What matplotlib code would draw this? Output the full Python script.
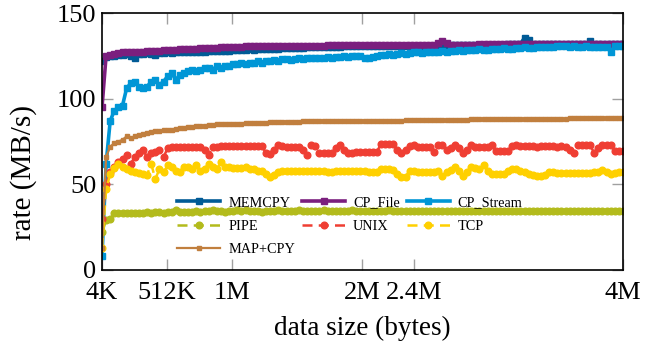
import numpy as np
import matplotlib
matplotlib.use("Agg")
import matplotlib.pyplot as plt

plt.rcParams["font.family"] = ["Liberation Serif", "DejaVu Serif"]

# ── data (MB/s) ──────────────────────────────────────────────────────────
SIZES_KB = np.linspace(4, 4096, 128)

MEMCPY = [
    122, 124.5, 125, 125, 125.5, 125.5, 126, 125, 124, 126,
    126, 126.5, 126, 125.5, 126.5, 126.5, 127, 126.5, 127, 127,
    127, 127, 127.5, 127.5, 127.5, 127.5, 128, 128, 128, 128,
    128, 128, 128.5, 128.5, 128.5, 128.5, 129, 128.5, 129, 129,
    129, 129, 129, 129, 129.5, 129.5, 129.5, 129.5, 129.5, 129.5,
    130, 130, 130, 130, 130, 130, 130, 130, 130, 130.5,
    130.5, 130.5, 130.5, 130.5, 130.5, 130.5, 130.5, 130.5, 131, 131,
    131, 131, 131, 131, 131, 131, 131, 131, 131, 131,
    131, 131, 131, 131, 131.5, 131.5, 131.5, 131.5, 131.5, 131.5,
    131.5, 131.5, 131.5, 131.5, 131.5, 131.5, 131.5, 131.5, 131.5, 132,
    132, 132, 132, 135.5, 134, 132, 132, 132, 132, 132,
    132, 132, 132, 132, 132, 132, 132, 132, 132, 133.5,
    132, 132, 132, 132, 132, 132, 132, 132,
]
CP_FILE = [
    95, 125, 125.5, 126, 126.5, 127, 127, 127.5, 127.5, 127.5,
    127.5, 128, 128, 128, 128, 128.5, 128.5, 128.5, 128.5, 129,
    129, 129, 129, 129, 129.5, 129.5, 129.5, 129.5, 129.5, 130,
    130, 130, 130, 130, 130, 130.5, 130.5, 130.5, 130.5, 130.5,
    130.5, 130.5, 131, 131, 131, 131, 131, 131, 131, 131,
    131, 131, 131, 131, 131, 131.5, 131.5, 131.5, 131.5, 131.5,
    131.5, 131.5, 131.5, 131.5, 131.5, 131.5, 131.5, 131.5, 131.5, 131.5,
    131.5, 131.5, 131.5, 131.5, 131.5, 131.5, 131.5, 131.5, 131.5, 131.5,
    131.5, 131.5, 132.5, 133.5, 132.5, 131.5, 131.5, 131.5, 131.5, 131.5,
    131.5, 131.5, 132, 132, 132, 132, 132, 132, 132, 132,
    132, 132, 132, 132, 132, 132, 132, 132, 132, 132,
    132, 132, 132, 132, 132, 132, 132, 132, 132, 132,
    132, 132, 132, 132, 132, 132, 132, 132,
]
CP_STREAM = [
    8, 62, 87, 93, 95, 96, 106, 109, 110, 107,
    106, 107, 110, 111, 108, 110, 113, 115, 111, 114,
    115, 116, 117, 116, 117, 118, 118, 117, 119, 118,
    119, 119, 120, 120, 121, 120, 121, 121, 122, 121,
    122, 122, 122.5, 122, 123, 123, 122.5, 123, 123.5, 123,
    123.5, 124, 123.5, 124, 124, 124.5, 124, 124.5, 124.5, 125,
    124.5, 125, 125, 125, 124, 123.5, 124.5, 125, 125.5, 125.5,
    126, 125.5, 126, 126.5, 126, 126.5, 127, 127, 126.5, 127,
    127, 127.5, 127.5, 128, 127.5, 128, 128, 128.5, 128, 128.5,
    128.5, 128.5, 129, 128.5, 128.5, 129, 129, 129, 129.5, 129,
    129, 129.5, 129.5, 130, 129.5, 129.5, 130, 130, 130, 130,
    130, 130.5, 130.5, 130.5, 130, 130.5, 130, 130, 130.5, 130,
    130, 130, 130, 130, 127.5, 130.5, 131, 130.5,
]
PIPE = [
    22, 29, 30, 33, 33, 33, 33, 33.5, 33, 33.5,
    33.5, 34, 33.5, 34, 34, 33.5, 34, 34, 35, 34,
    34, 34, 34, 34.5, 34, 34.5, 34.5, 35, 34.5, 34.5,
    34, 34.5, 34.5, 35, 34.5, 35, 34.5, 34.5, 34.5, 34,
    34.5, 34.5, 34.5, 35, 34.5, 34.5, 34.5, 34.5, 35, 34.5,
    34.5, 34.5, 34.5, 34.5, 35, 34.5, 34.5, 34.5, 34.5, 34.5,
    34.5, 35, 34.5, 34.5, 34.5, 34.5, 34.5, 34.5, 34.5, 34.5,
    35, 34.5, 34.5, 34.5, 34.5, 34.5, 34.5, 34.5, 34.5, 34.5,
    34.5, 34.5, 34.5, 34.5, 34.5, 34.5, 34.5, 34.5, 34.5, 34.5,
    34.5, 34.5, 34.5, 34.5, 34.5, 34.5, 34.5, 34.5, 34.5, 34.5,
    34.5, 34.5, 34.5, 34.5, 34.5, 34.5, 34.5, 34.5, 34.5, 34.5,
    34.5, 34.5, 34.5, 34.5, 34.5, 34.5, 34.5, 34.5, 34.5, 34.5,
    34.5, 34.5, 34.5, 34.5, 34.5, 34.5, 34.5, 34.5,
]
UNIX = [
    30, 50, 57, 60, 63, 65, 67, 62, 66, 68,
    70, 66, 68, 69, 70, 66, 71, 72, 72, 72,
    72, 72, 72, 72, 72, 70, 67, 72, 72, 72.5,
    72.5, 72.5, 72.5, 72.5, 72.5, 72.5, 72.5, 72.5, 72.5, 72.5,
    68, 67.5, 70, 73, 72.5, 72, 72, 72, 72, 70,
    67, 73, 72.5, 68, 68, 68, 68, 71, 73, 70,
    68, 68, 69, 69, 69, 69, 69, 69, 73.5, 73.5,
    73.5, 73.5, 70, 68, 70, 72.5, 73, 72, 72, 72,
    72, 69, 73, 73, 70, 71, 73, 71, 68, 70,
    73, 72, 72, 72, 72, 73, 69.5, 69.5, 69.5, 69.5,
    72.5, 73, 72.5, 72.5, 72.5, 72.5, 72, 72.5, 72.5, 72.5,
    72.5, 72, 72.5, 72, 70, 68, 73, 73, 73, 73,
    68, 71, 73, 73, 73, 69.5, 69.5, 69.5,
]
TCP = [
    13, 47, 56, 59.5, 62, 60, 59, 58, 57, 56.5,
    56, 55.5, 62, 53, 59, 57, 61, 60, 58, 57,
    60, 60, 59, 61, 58, 59, 62, 60, 59, 63,
    60, 60, 59.5, 59.5, 59.5, 60, 59, 59, 58, 58,
    56, 54.5, 55.5, 57, 57.5, 58, 58, 58, 58, 57.5,
    57.5, 58, 58, 57.5, 57.5, 57, 57, 58, 57.5, 58,
    58, 57.5, 58, 57.5, 57.5, 57, 57, 57, 59, 59,
    59, 58.5, 56, 54, 54.5, 58, 57.5, 57, 57, 57,
    57, 57, 58, 55, 57, 58.5, 60, 58, 55, 57,
    60, 59.5, 59, 61, 58, 56, 56, 56, 56, 57.5,
    59, 59, 58, 57, 56, 55.5, 55, 55, 55.5, 57,
    57, 56.5, 56.5, 56.5, 56.5, 56.5, 56.5, 56.5, 56.5, 56.5,
    57, 57, 58.5, 57, 56, 56.5, 57, 57,
]
MAP_CPY = [
    13, 66, 72, 74, 75, 76, 78, 77, 78, 79,
    79.5, 80, 80.5, 81, 81, 81.5, 82, 82, 82.5, 83,
    83, 83.5, 83.5, 84, 84, 84, 84.5, 84.5, 85, 85,
    85, 85.5, 85.5, 85.5, 85.5, 86, 86, 86, 86, 86,
    86, 86.5, 86.5, 86.5, 86.5, 86.5, 86.5, 86.5, 86.5, 87,
    87, 87, 87, 87, 87, 87, 87, 87, 87, 87,
    87, 87, 87, 87, 87, 87, 87, 87, 87, 87,
    87, 87, 87, 87, 87.5, 87.5, 87.5, 87.5, 87.5, 87.5,
    87.5, 87.5, 87.5, 87.5, 87.5, 87.5, 87.5, 87.5, 87.5, 87.5,
    88, 88, 88, 88, 88, 88, 88, 88, 88, 88,
    88, 88, 88, 88, 88, 88, 88, 88, 88, 88,
    88, 88, 88, 88, 88.5, 88.5, 88.5, 88.5, 88.5, 88.5,
    88.5, 88.5, 88.5, 88.5, 89, 89, 89, 89,
]

XTICKS_KB = [4, 512, 1024, 2048, 2457.6, 4096]
XTICK_LABELS = ["4K", "512K", "1M", "2M", "2.4M", "4M"]
YTICKS = [0, 50, 100, 150]

# ── plot ─────────────────────────────────────────────────────────────────
fig = plt.figure(figsize=(6.61, 3.45), dpi=100)
ax = fig.add_axes([0.1543, 0.2174, 0.7882, 0.7449])

dash = (4, 2.5)
h = {}
h["MEMCPY"], = ax.plot(SIZES_KB, MEMCPY, color="#005b96", lw=2.6,
                       marker="s", ms=4.0, label="MEMCPY")
h["CP_File"], = ax.plot(SIZES_KB, CP_FILE, color="#7b1f7e", lw=2.6,
                        marker="s", ms=4.0, label="CP_File")
h["CP_Stream"], = ax.plot(SIZES_KB, CP_STREAM, color="#0096d6", lw=2.6,
                          marker="s", ms=4.0, label="CP_Stream")
h["PIPE"], = ax.plot(SIZES_KB, PIPE, color="#b3bb1c", lw=1.8, ls="--",
                     dashes=dash, marker="o", ms=4.8, label="PIPE")
h["UNIX"], = ax.plot(SIZES_KB, UNIX, color="#ef3e33", lw=1.8, ls="--",
                     dashes=dash, marker="o", ms=4.8, label="UNIX")
h["TCP"], = ax.plot(SIZES_KB, TCP, color="#ffd000", lw=1.8, ls="--",
                    dashes=dash, marker="o", ms=4.8, label="TCP")
h["MAP+CPY"], = ax.plot(SIZES_KB, MAP_CPY, color="#c17f3e", lw=1.6,
                        marker="s", ms=2.2, label="MAP+CPY")

ax.set_xlim(4, 4096)
ax.set_ylim(0, 150)
ax.set_xticks(XTICKS_KB)
ax.set_xticklabels(XTICK_LABELS)
ax.set_yticks(YTICKS)
ax.tick_params(direction="in", length=8, width=1, color="#a0a0a0",
               top=True, right=True, labelsize=19)
ax.tick_params(axis="x", pad=8.5)
ax.tick_params(axis="y", pad=4)
for s in ax.spines.values():
    s.set_linewidth(1.2)
ax.set_xlabel("data size (bytes)", fontsize=19.5)
ax.set_ylabel("rate (MB/s)", fontsize=21)
ax.xaxis.set_label_coords(0.5, -0.18)
ax.yaxis.set_label_coords(-0.125, 0.38)

order = ["MEMCPY", "PIPE", "MAP+CPY", "CP_File", "UNIX", "CP_Stream", "TCP"]
ax.legend([h[k] for k in order], order, ncol=3, loc="center",
          bbox_to_anchor=(0.476, 0.17), frameon=False, fontsize=10.3,
          handlelength=3.0, handletextpad=0.55, columnspacing=0.5,
          labelspacing=0.72, numpoints=1)

fig.savefig("out.png", dpi=100)
